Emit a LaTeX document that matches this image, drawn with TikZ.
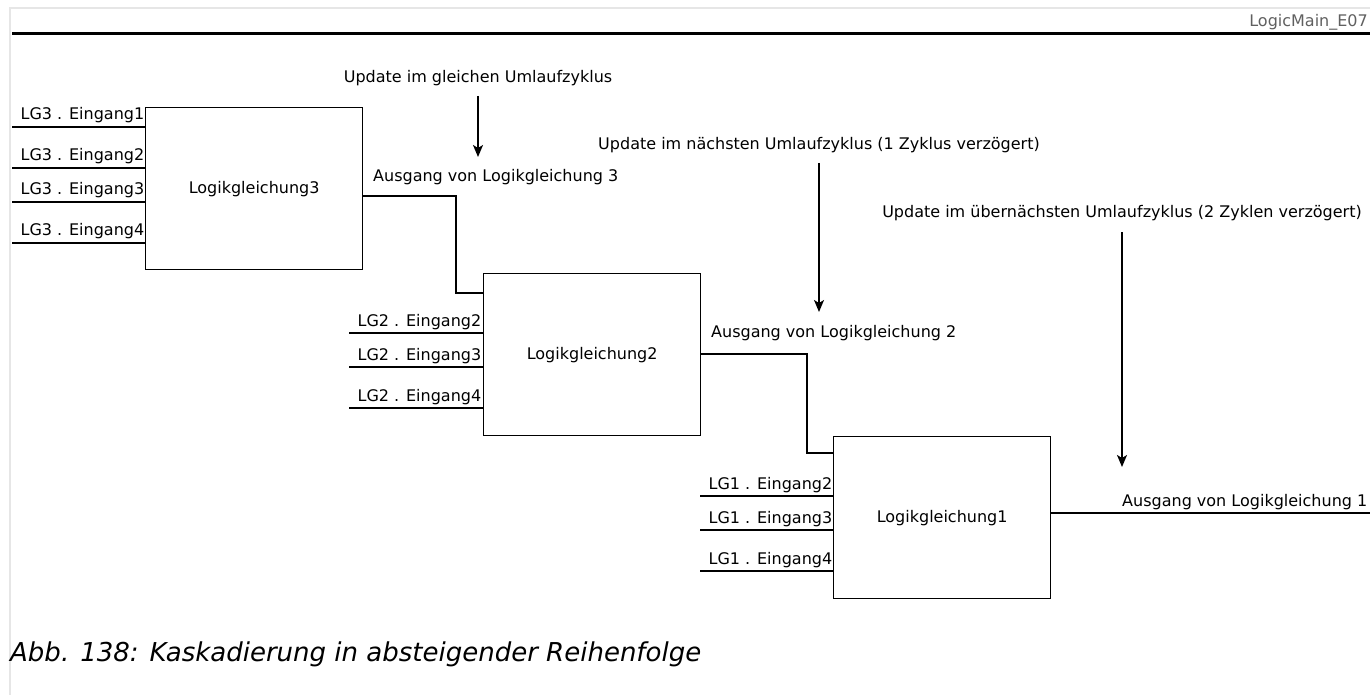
\documentclass[tikz,border=0pt]{standalone}
\usepackage{fontspec}
\setmainfont{DejaVu Sans}
\usetikzlibrary{arrows.meta}
\definecolor{framegray}{HTML}{E6E6E6}
\definecolor{headgray}{HTML}{606060}

\begin{document}
\begin{tikzpicture}[x=1pt,y=-1pt,>={Stealth[length=12pt,width=10pt,inset=3pt]},
  font=\fontsize{16}{19}\selectfont,
  logicbox/.style={draw,line width=1.3pt,minimum width=217pt,minimum height=162pt,inner sep=0pt},
  wire/.style={line width=1.3pt},
  inlabel/.style={anchor=base west,inner sep=0pt,pos=0,xshift=8pt,yshift=7pt},
  outlabel/.style={anchor=base west,inner sep=0pt},
  updlabel/.style={anchor=base,inner sep=0pt},
  updarrow/.style={->,line width=1.5pt}]
\useasboundingbox (0,0) rectangle (1370,695);
% page frame and header
\draw[framegray,line width=2pt] (10,695) -- (10,8) -- (1370,8);
\draw[line width=2.5pt] (12,33.5) -- (1370,33.5);
\node[anchor=base east,inner sep=0pt,text=headgray] (hdr) at (1368,27) {LogicMain\_E07};
% cascade of logic equations
\node[logicbox,anchor=north west] (lg3) at (145,107) {Logikgleichung3};
\node[logicbox,anchor=north west] (lg2) at (483,273) {Logikgleichung2};
\node[logicbox,anchor=north west] (lg1) at (833,436) {Logikgleichung1};
\coordinate (e31) at (12,127);
\coordinate (e32) at (12,168);
\coordinate (e33) at (12,202);
\coordinate (e34) at (12,243);
\draw[wire] (e31) -- (e31 -| lg3.west) node[inlabel] (t31) {LG3 . Eingang1};
\draw[wire] (e32) -- (e32 -| lg3.west) node[inlabel] (t32) {LG3 . Eingang2};
\draw[wire] (e33) -- (e33 -| lg3.west) node[inlabel] (t33) {LG3 . Eingang3};
\draw[wire] (e34) -- (e34 -| lg3.west) node[inlabel] (t34) {LG3 . Eingang4};
\coordinate (e22) at (349,333);
\coordinate (e23) at (349,367);
\coordinate (e24) at (349,408);
\draw[wire] (e22) -- (e22 -| lg2.west) node[inlabel] (t22) {LG2 . Eingang2};
\draw[wire] (e23) -- (e23 -| lg2.west) node[inlabel] (t23) {LG2 . Eingang3};
\draw[wire] (e24) -- (e24 -| lg2.west) node[inlabel] (t24) {LG2 . Eingang4};
\coordinate (e12) at (700,496);
\coordinate (e13) at (700,530);
\coordinate (e14) at (700,571);
\draw[wire] (e12) -- (e12 -| lg1.west) node[inlabel] (t12) {LG1 . Eingang2};
\draw[wire] (e13) -- (e13 -| lg1.west) node[inlabel] (t13) {LG1 . Eingang3};
\draw[wire] (e14) -- (e14 -| lg1.west) node[inlabel] (t14) {LG1 . Eingang4};
% outputs
\coordinate (k3) at (456,196);
\draw[wire] (lg3.east |- k3) -- (k3) |- ([yshift=-20pt]lg2.north west);
\node[outlabel] (a3) at (373,182) {Ausgang von Logikgleichung 3};
\coordinate (k2) at (807,354);
\draw[wire] (lg2.east |- k2) -- (k2) |- ([yshift=-17pt]lg1.north west);
\node[outlabel] (a2) at (711,337) {Ausgang von Logikgleichung 2};
\coordinate (k1) at (1370,513);
\draw[wire] (lg1.east |- k1) -- (k1);
\node[outlabel] (a1) at (1122,506) {Ausgang von Logikgleichung 1};
% update notes
\node[updlabel] (u1) at (478,83) {Update im gleichen Umlaufzyklus};
\coordinate (p1) at (478,157);
\draw[updarrow] ([yshift=-13pt]u1.base) -- (p1);
\node[updlabel] (u2) at (819,150) {Update im nächsten Umlaufzyklus (1 Zyklus verzögert)};
\coordinate (p2) at (819,312);
\draw[updarrow] ([yshift=-13pt]u2.base) -- (p2);
\node[updlabel] (u3) at (1122,218) {Update im übernächsten Umlaufzyklus (2 Zyklen verzögert)};
\coordinate (p3) at (1122,467);
\draw[updarrow] ([yshift=-14pt]u3.base) -- (p3);
\node[anchor=base west,inner sep=0pt,font=\fontsize{26}{31}\selectfont\itshape] (cap) at (10,661) {Abb. 138: Kaskadierung in absteigender Reihenfolge};
\end{tikzpicture}
\end{document}
